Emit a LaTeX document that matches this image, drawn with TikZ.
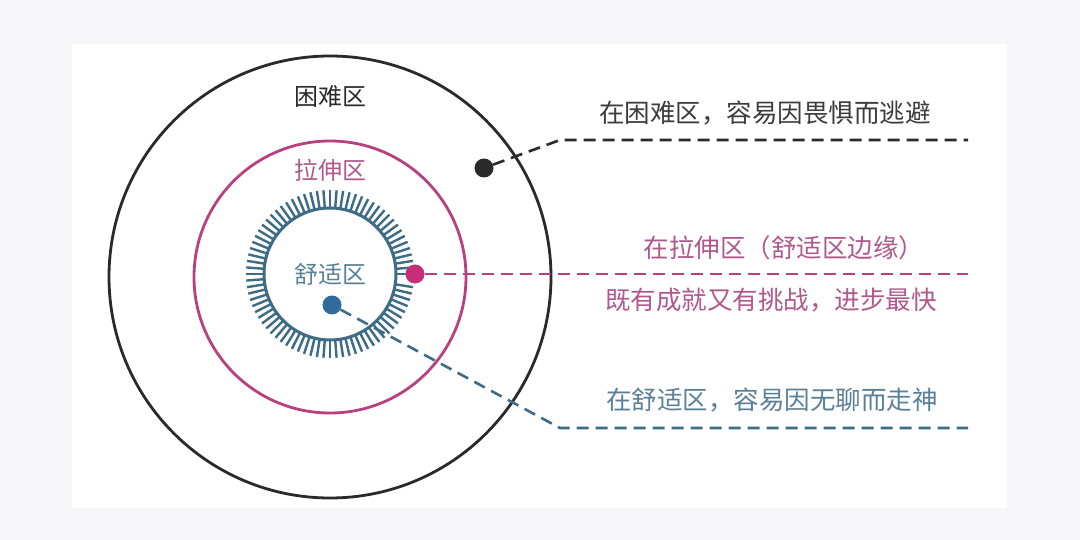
\documentclass[tikz,border=0pt]{standalone}
\usepackage{fontspec}
\setmainfont{Noto Sans CJK SC}
\usetikzlibrary{calc}
\definecolor{bggrey}{HTML}{F6F6F8}
\definecolor{darkc}{HTML}{2A2A2A}
\definecolor{pinkc}{HTML}{B8407E}
\definecolor{pinkdot}{HTML}{C62F78}
\definecolor{pinktext}{HTML}{B0588C}
\definecolor{bluec}{HTML}{3E6B86}
\definecolor{bluedot}{HTML}{2F6C9C}
\definecolor{bluetext}{HTML}{5A8098}
\definecolor{greytext}{HTML}{3C3C3C}
\tikzset{
  zone/.style={circle, draw, line width=2.8pt, inner sep=0pt},
  dotnode/.style={circle, inner sep=0pt, minimum size=19pt},
  lbl/.style={font=\fontsize{24}{28}\selectfont, inner sep=0pt},
  note/.style={font=\fontsize{25.5}{30}\selectfont, inner sep=0pt},
  leader/.style={line width=2.6pt, dash pattern=on 12pt off 7pt},
}
\begin{document}
\begin{tikzpicture}[x=1pt,y=-1pt]
\useasboundingbox (0,0) rectangle (1080,540);
\fill[bggrey] (0,0) rectangle (1080,540);
\fill[white] (72,44) rectangle (1007,508);
% zones
\node[zone, draw=darkc, minimum size=442pt] (hard) at (330,277) {};
\node[zone, draw=pinkc, minimum size=272pt] (stretch) at (330,277) {};
\node[zone, draw=bluec, minimum size=132pt, line width=3pt] (comfort) at (330,274) {};
\foreach \a in {0,4.5,...,355} {
  \draw[bluec, line width=2.4pt] ($(comfort.center)+(\a:66pt)$) -- ($(comfort.center)+(\a:84pt)$);
}
% zone labels
\node[lbl, text=darkc] (thard) at (330,96) {困难区};
\node[lbl, text=pinktext] (tstretch) at (330,170) {拉伸区};
\node[lbl, text=bluetext] (tcomfort) at (330,274) {舒适区};
% dots
\node[dotnode, fill=darkc] (dhard) at (484,168) {};
\node[dotnode, fill=pinkdot] (dstretch) at (415,274) {};
\node[dotnode, fill=bluedot] (dcomfort) at (332,305) {};
% leader ends
\coordinate (khard) at (560,140);
\coordinate (ehard) at (968,140);
\coordinate (estretch) at (968,274);
\coordinate (kcomfort) at (560,428);
\coordinate (ecomfort) at (968,428);
\draw[leader, darkc] (dhard) -- (khard) -- (ehard);
\draw[leader, pinkc] (dstretch) -- (estretch);
\draw[leader, bluec] (dcomfort) -- (kcomfort) -- (ecomfort);
% notes
\node[note, text=greytext] (nhard) at (765,113) {在困难区，容易因畏惧而逃避};
\node[note, text=pinktext] (nstretch1) at (784,248) {在拉伸区（舒适区边缘）};
\node[note, text=pinktext] (nstretch2) at (771,300) {既有成就又有挑战，进步最快};
\node[note, text=bluetext] (ncomfort) at (772,400) {在舒适区，容易因无聊而走神};
\end{tikzpicture}
\end{document}
